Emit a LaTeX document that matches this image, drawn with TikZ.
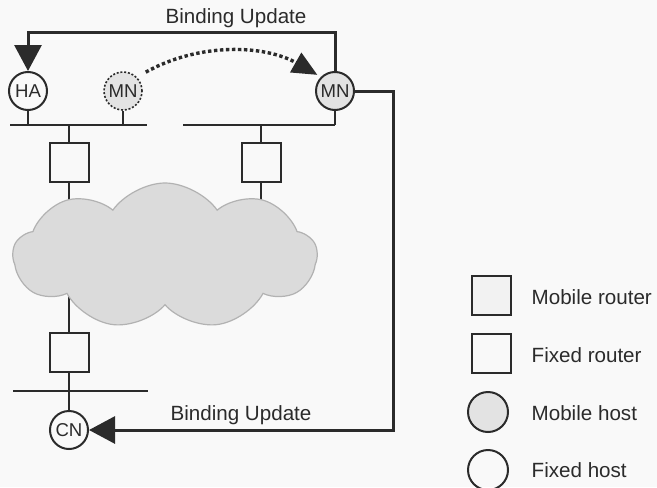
\documentclass[tikz,border=0pt]{standalone}
\usepackage{fontspec}
\setmainfont{Liberation Sans}
\usetikzlibrary{arrows.meta,shapes.symbols,backgrounds}
\definecolor{ink}{gray}{0.17}

\begin{document}
\begin{tikzpicture}[x=.5pt,y=-.5pt,>={Triangle[length=13pt,width=13.5pt]},
 line width=1pt,color=ink,
 host/.style={circle,draw=ink,line width=1pt,minimum size=19pt,inner sep=0pt,
   font=\fontsize{9.3}{10}\selectfont},
 mobile/.style={host,fill=gray!22},
 rtr/.style={draw=ink,line width=1pt,minimum width=19.5pt,minimum height=19.5pt,inner sep=0pt},
 link/.style={draw=ink,line width=1pt},
 upd/.style={->,line width=1.5pt},
 lbl/.style={font=\fontsize{10.3}{12}\selectfont}]
 \path[use as bounding box] (0,0) rectangle (657,487);
 % hosts and routers
 \node[host] (ha) at (28,91) {HA};
 \node[mobile,dash pattern=on 1pt off .9pt,line width=.8pt] (mn0) at (123,91) {MN};
 \node[mobile] (mn) at (335,91) {MN};
 \node[host] (cn) at (69,430) {CN};
 \node[rtr] (r1) at (69,162) {};
 \node[rtr] (r2) at (261,162) {};
 \node[rtr] (r3) at (69,352) {};
 \node[cloud,cloud puffs=9,cloud puff arc=110,aspect=2,minimum width=152pt,minimum height=73pt,
   fill=gray!28,draw=gray!60,line width=.6pt] (net) at (165,256) {};
 % links
 \coordinate (b1w) at (10,125); \coordinate (b1e) at (147,125);
 \coordinate (b2w) at (183,125);
 \coordinate (b3w) at (13,391); \coordinate (b3e) at (148,391);
 \draw[link] (b1w)--(b1e); \draw[link] (b2w)--(mn |- b2w); \draw[link] (b3w)--(b3e);
 \draw[link] (ha)--(ha |- b1w); \draw[link] (mn0)--(mn0 |- b1w); \draw[link] (mn)--(mn |- b2w);
 \draw[link] (r1 |- b1w)--(r1); \draw[link] (r2 |- b2w)--(r2); \draw[link] (r3)--(cn);
 \begin{scope}[on background layer]
  \fill[gray!5] (0,0) rectangle (657,487);
  \draw[link] (r1)--(r1 |- net.center); \draw[link] (r2)--(r2 |- net.center);
  \draw[link] (r3)--(r3 |- net.center);
 \end{scope}
 % binding updates
 \coordinate (top) at (0,32); \coordinate (rt) at (393,0);
 \draw[upd] (mn.north) |- (ha |- top) -- (ha.north);
 \node[lbl] (bu1) at (236,18) {Binding Update};
 \draw[upd] (mn.east) -| (rt |- cn) -- (cn.east);
 \node[lbl] (bu2) at (241,415) {Binding Update};
 \draw[->,>={Triangle[length=12.5pt,width=11pt]},line width=1.7pt,dash pattern=on 1.7pt off 1.3pt,
   shorten <=5pt,shorten >=2pt] (mn0.45) .. controls (200,42) and (265,45) .. (mn.north west);
 % legend
 \node[rtr,fill=gray!10] (kmr) at (491,295) {};
 \node[rtr] (kfr) at (491,353) {};
 \node[mobile,minimum size=20pt] (kmh) at (488,412) {};
 \node[host,minimum size=20pt] (kfh) at (488,470) {};
 \node[lbl,anchor=west] (tmr) at (524,297) {Mobile router};
 \node[lbl,anchor=west] (tfr) at (524,355) {Fixed router};
 \node[lbl,anchor=west] (tmh) at (524,413) {Mobile host};
 \node[lbl,anchor=west] (tfh) at (524,470) {Fixed host};
\end{tikzpicture}
\end{document}
